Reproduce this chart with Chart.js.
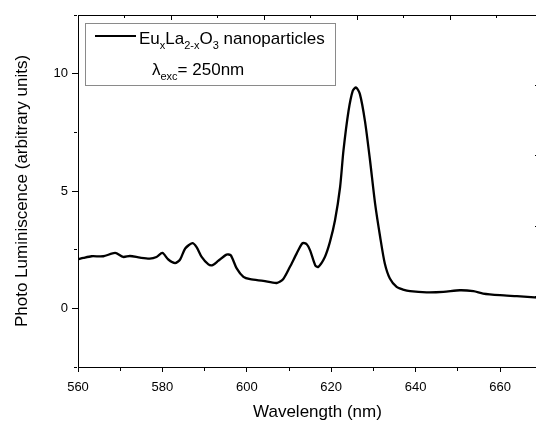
<!DOCTYPE html>
<html>
<head>
<meta charset="utf-8">
<script src="https://cdn.jsdelivr.net/npm/chart.js@4.4.1/dist/chart.umd.min.js"></script>
<style>
  html, body { margin: 0; padding: 0; background: #fff; overflow: hidden; }
  #plChart { display: block; }
</style>
</head>
<body>
<canvas id="plChart" width="538" height="421"></canvas>
<script>
// photo luminescence spectrum
var wavelengths = [560, 561.3, 563.2, 566, 568.8, 570.7, 572.3, 574.7, 577, 578.6,
  580, 581.4, 583, 584.2, 585.4, 587.1, 588.1, 589.3, 590.9, 591.9,
  593.2, 595.2, 596.2, 597.6, 599.2, 600.8, 603.9, 607.1, 608.6, 610.2,
  611.8, 613.2, 614.2, 615, 616.2, 616.9, 618.5, 619.7, 620.9, 622.1,
  622.9, 624.1, 625.1, 625.9, 626.8, 628, 629.2, 630.4, 631.6, 632.7,
  633.9, 635.5, 637, 638.7, 642.6, 646.6, 650.5, 653.7, 656, 660, 664, 669];
var intensities = [2.09, 2.15, 2.22, 2.22, 2.36, 2.19, 2.23, 2.16, 2.12, 2.19,
  2.36, 2.08, 1.93, 2.08, 2.55, 2.78, 2.61, 2.19, 1.87, 1.84,
  2.02, 2.29, 2.26, 1.70, 1.34, 1.24, 1.17, 1.08, 1.24, 1.76,
  2.33, 2.78, 2.73, 2.47, 1.84, 1.76, 2.19, 2.83, 3.75, 5.16,
  6.72, 8.41, 9.27, 9.41, 9.13, 7.98, 6.30, 4.46, 3.04, 1.91,
  1.27, 0.91, 0.80, 0.73, 0.68, 0.70, 0.77, 0.73, 0.63, 0.56, 0.52, 0.46];

var xTickLabels = [560, 580, 600, 620, 640, 660];
var yTickLabels = [0, 5, 10];

var fontFam = "'Liberation Sans', Arial, sans-serif";

var points = [];
for (var i = 0; i < wavelengths.length; i++) {
  points.push({x: wavelengths[i], y: intensities[i]});
}

// dash trick so minor ticks come out shorter than major ones
function minorDashOut(isMajor) { return isMajor ? [] : [3, 100]; }
function minorDashIn(isMajor) { return isMajor ? [] : [0, 2, 3, 100]; }

// legend box with sub-scripts
function drawRich(ctx, x, y, parts) {
  for (var k = 0; k < parts.length; k++) {
    var p = parts[k];
    ctx.font = (p.sub ? '11px ' : '17px ') + fontFam;
    ctx.fillText(p.t, x, p.sub ? y + 5 : y);
    x += ctx.measureText(p.t).width;
  }
}

var legendBox = {
  id: 'legendBox',
  afterDraw: function(chart) {
    var ctx = chart.ctx;
    ctx.save();
    ctx.fillStyle = '#fff';
    ctx.fillRect(85.5, 23.5, 250, 62);
    ctx.strokeStyle = '#8a8a8a';
    ctx.lineWidth = 1;
    ctx.strokeRect(85.5, 23.5, 250, 62);
    ctx.strokeStyle = '#000';
    ctx.lineWidth = 2;
    ctx.beginPath();
    ctx.moveTo(95, 36);
    ctx.lineTo(136, 36);
    ctx.stroke();
    ctx.fillStyle = '#000';
    ctx.textBaseline = 'alphabetic';
    drawRich(ctx, 139, 44, [
      {t: 'Eu'}, {t: 'x', sub: true}, {t: 'La'}, {t: '2-x', sub: true},
      {t: 'O'}, {t: '3', sub: true}, {t: ' nanoparticles'}
    ]);
    drawRich(ctx, 152, 75, [
      {t: '\u03bb'}, {t: 'exc', sub: true}, {t: '= 250nm'}
    ]);
    ctx.restore();
  }
};

var ctx = document.getElementById('plChart').getContext('2d');
new Chart(ctx, {
  type: 'line',
  data: {
    datasets: [{
      label: 'EuxLa2-xO3 nanoparticles',
      data: points,
      borderColor: '#000',
      borderWidth: 2.3,
      pointRadius: 0,
      tension: 0.25,
      fill: false
    }]
  },
  options: {
    responsive: false,
    animation: false,
    layout: { padding: { top: 15, left: 0, right: 0, bottom: 0 } },
    plugins: {
      legend: { display: false },
      tooltip: { enabled: false }
    },
    scales: {
      x: {
        type: 'linear',
        position: 'bottom',
        min: 560,
        max: 669,
        afterFit: function(s) { s.height = 54; },
        border: { color: '#000', width: 1 },
        grid: {
          drawOnChartArea: false,
          tickLength: 5,
          tickColor: '#000',
          tickBorderDash: function(c) { return minorDashOut(c.tick && c.tick.value % 20 === 0); }
        },
        ticks: {
          stepSize: 10,
          includeBounds: false,
          maxRotation: 0,
          autoSkip: false,
          padding: 8,
          color: '#000',
          font: { family: fontFam, size: 13 },
          callback: function(v) { return xTickLabels.indexOf(v) >= 0 ? String(v) : ''; }
        },
        title: {
          display: true,
          text: '    Wavelength (nm)',
          color: '#000',
          font: { family: fontFam, size: 17, lineHeight: 1 },
          padding: 0
        }
      },
      x2: {
        type: 'linear',
        position: 'top',
        min: 0,
        max: 9.89,
        afterFit: function(s) { s.height = 0; },
        border: { color: '#000', width: 1 },
        grid: {
          drawOnChartArea: false,
          tickLength: -5,
          tickColor: '#000',
          tickBorderDash: function(c) { return minorDashIn(c.tick && c.tick.value % 2 === 0); }
        },
        ticks: { stepSize: 1, includeBounds: false, display: false }
      },
      y: {
        type: 'linear',
        position: 'left',
        min: -2.5,
        max: 12.5,
        afterFit: function(s) { s.width = 78; },
        border: { color: '#000', width: 1 },
        grid: {
          drawOnChartArea: false,
          tickLength: 6,
          tickColor: '#000',
          tickBorderDash: function(c) { return minorDashIn(c.tick && c.tick.value % 5 === 0); }
        },
        ticks: {
          stepSize: 2.5,
          autoSkip: false,
          padding: 4,
          color: '#000',
          font: { family: fontFam, size: 13 },
          callback: function(v) { return yTickLabels.indexOf(v) >= 0 ? String(v) : ''; }
        },
        title: {
          display: true,
          text: 'Photo Luminiscence (arbitrary units)',
          color: '#000',
          font: { family: fontFam, size: 17, lineHeight: 1.2 },
          padding: { top: 12, bottom: 0 }
        }
      },
      y2: {
        type: 'linear',
        position: 'right',
        min: 0,
        max: 5,
        afterFit: function(s) { s.width = 0; },
        border: { color: '#000', width: 1 },
        grid: {
          drawOnChartArea: false,
          tickLength: -3,
          tickColor: '#000'
        },
        ticks: { stepSize: 1, display: false }
      }
    }
  },
  plugins: [legendBox]
});
</script>
</body>
</html>
